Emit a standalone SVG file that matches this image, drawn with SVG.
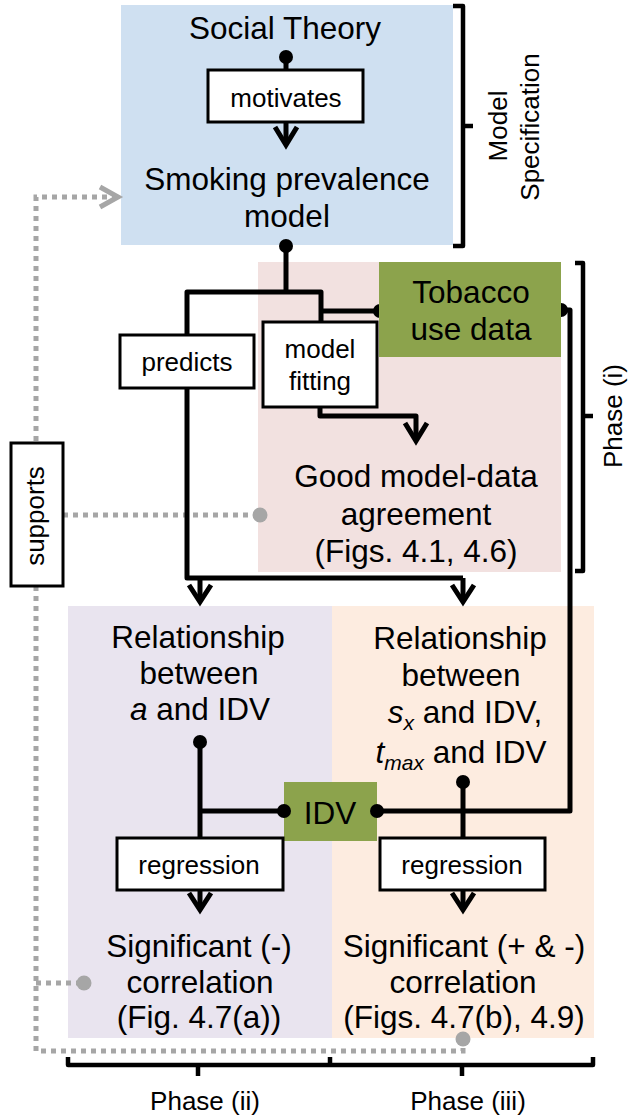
<svg xmlns="http://www.w3.org/2000/svg" width="629" height="1120" viewBox="0 0 629 1120">
<defs>
<style>
text{font-family:"Liberation Sans",Arial,sans-serif;fill:#000}
.big{font-size:31.5px;text-anchor:middle}
.sm{font-size:26px;text-anchor:middle}
.box{fill:#fff;stroke:#000;stroke-width:3}
.ln{fill:none;stroke:#000;stroke-width:5;stroke-linejoin:round;stroke-linecap:butt}
.ah{fill:none;stroke:#000;stroke-width:5;stroke-linejoin:miter;stroke-miterlimit:10}
.gl{fill:none;stroke:#a6a6a6;stroke-width:5;stroke-dasharray:5 5}
.ga{fill:none;stroke:#a6a6a6;stroke-width:5;stroke-linejoin:miter}
.br{fill:none;stroke:#000;stroke-width:4.5;stroke-linejoin:round}
.dot{fill:#000}
.gdot{fill:#a6a6a6}
</style>
</defs>
<rect width="629" height="1120" fill="#fff"/>

<!-- background regions -->
<g id="regions">
<rect x="121" y="5" width="332" height="240" fill="#cfe0f1"/>
<rect x="258" y="262" width="303" height="310" fill="#f2e1e0"/>
<rect x="68" y="606" width="264" height="432" fill="#e9e4ef"/>
<rect x="332" y="606" width="262" height="432" fill="#fdece0"/>
</g>

<!-- gray dotted "supports" connectors -->
<g id="support-connectors">
<polyline class="gl" points="117,197 36,197 36,1051 463,1051 463,1040"/>
<polyline class="ga" points="100,187 118,197 100,207"/>
<line class="gl" x1="63" y1="515" x2="258" y2="515"/>
<line class="gl" x1="36" y1="983" x2="82" y2="983"/>
<circle class="gdot" cx="260" cy="515" r="7.5"/>
<circle class="gdot" cx="84" cy="983" r="7.5"/>
<circle class="gdot" cx="463" cy="1039" r="7.5"/>
</g>

<!-- black connectors -->
<g id="connectors">
<line class="ln" x1="286" y1="57" x2="286" y2="70"/>
<line class="ln" x1="286" y1="122" x2="286" y2="144"/>
<polyline class="ah" points="275,127 286,145 297,127"/>

<polyline class="ln" points="286,246 286,292"/>
<polyline class="ln" points="187,335 187,292 321,292 321,322"/>
<line class="ln" x1="321" y1="311" x2="380" y2="311"/>

<polyline class="ln" points="187,388 187,578 463,578"/>
<line class="ln" x1="200" y1="578" x2="200" y2="600"/>
<line class="ln" x1="463" y1="578" x2="463" y2="600"/>
<polyline class="ah" points="189,585 200,602 211,585"/>
<polyline class="ah" points="452,585 463,602 474,585"/>

<polyline class="ln" points="320,407 320,416 416,416 416,440"/>
<polyline class="ah" points="405,423 416,441 427,423"/>

<polyline class="ln" points="561,310 570,310 570,811 377,811"/>

<line class="ln" x1="284" y1="811" x2="200" y2="811"/>
<line class="ln" x1="200" y1="742" x2="200" y2="838"/>
<line class="ln" x1="200" y1="890" x2="200" y2="908"/>
<polyline class="ah" points="189,893 200,910 211,893"/>

<line class="ln" x1="463" y1="782" x2="463" y2="838"/>
<line class="ln" x1="463" y1="890" x2="463" y2="908"/>
<polyline class="ah" points="452,893 463,910 474,893"/>

<circle class="dot" cx="286" cy="57" r="7"/>
<circle class="dot" cx="286" cy="246" r="7"/>
<circle class="dot" cx="380" cy="311" r="7"/>
<circle class="dot" cx="561" cy="310" r="7"/>
<circle class="dot" cx="200" cy="742" r="7"/>
<circle class="dot" cx="463" cy="782" r="7"/>
</g>

<!-- brackets -->
<g id="brackets">
<path class="br" d="M453,6 H463 V246 H453 M463,126 H473"/>
<path class="br" d="M575,263 H583 V571 H575 M583,416 H593"/>
<path class="br" d="M68,1057 V1065 H330 V1057 M330,1065 H593 V1057 M198,1065 V1076 M462,1065 V1076"/>
</g>

<g id="social-theory">
<text class="big" x="285" y="39">Social Theory</text>
</g>

<g id="motivates">
<rect class="box" x="208" y="70" width="155" height="52"/>
<text class="sm" x="286" y="107">motivates</text>
</g>

<g id="smoking-model">
<text class="big" x="287" y="190">Smoking prevalence</text>
<text class="big" x="287" y="227">model</text>
</g>

<g id="tobacco-data">
<rect x="379" y="262" width="182" height="95" fill="#8ca34c"/>
<text class="big" x="471" y="303">Tobacco</text>
<text class="big" x="471" y="340">use data</text>
</g>

<g id="predicts">
<rect class="box" x="120" y="335" width="134" height="53"/>
<text class="sm" x="187" y="371">predicts</text>
</g>

<g id="model-fitting">
<rect class="box" x="263" y="322" width="114" height="85" fill="#f2e1e0"/>
<text class="sm" x="320" y="358">model</text>
<text class="sm" x="320" y="390">fitting</text>
</g>

<g id="agreement">
<text class="big" x="416" y="487">Good model-data</text>
<text class="big" x="416" y="525">agreement</text>
<text class="big" x="416" y="562">(Figs. 4.1, 4.6)</text>
</g>

<g id="supports">
<rect class="box" x="11" y="443" width="52" height="143"/>
<text class="sm" transform="translate(44,516) rotate(-90)">supports</text>
</g>

<g id="rel-a">
<text class="big" x="198" y="648">Relationship</text>
<text class="big" x="199" y="684">between</text>
<text class="big" x="200" y="720"><tspan font-style="italic">a</tspan> and IDV</text>
</g>

<g id="rel-sx">
<text class="big" x="460" y="649">Relationship</text>
<text class="big" x="461" y="686">between</text>
<text class="big" x="465" y="723"><tspan font-style="italic">s</tspan><tspan font-style="italic" font-size="21" dy="7">x</tspan><tspan dy="-7"> and IDV,</tspan></text>
<text class="big" x="461" y="763"><tspan font-style="italic">t</tspan><tspan font-style="italic" font-size="21" dy="7">max</tspan><tspan dy="-7"> and IDV</tspan></text>
</g>

<g id="idv">
<rect x="284" y="782" width="93" height="59" fill="#8ca34c"/>
<text class="big" x="330" y="824">IDV</text>
<circle class="dot" cx="284" cy="811" r="7"/>
<circle class="dot" cx="377" cy="811" r="7"/>
</g>

<g id="regression-left">
<rect class="box" x="117" y="838" width="166" height="52"/>
<text class="sm" x="199" y="874">regression</text>
</g>

<g id="regression-right">
<rect class="box" x="380" y="838" width="165" height="52"/>
<text class="sm" x="462" y="874">regression</text>
</g>

<g id="sig-left">
<text class="big" x="199" y="957">Significant (-)</text>
<text class="big" x="200" y="993">correlation</text>
<text class="big" x="199" y="1028">(Fig. 4.7(a))</text>
</g>

<g id="sig-right">
<text class="big" x="464" y="957">Significant (+ &amp; -)</text>
<text class="big" x="463" y="993">correlation</text>
<text class="big" x="464" y="1028">(Figs. 4.7(b), 4.9)</text>
</g>

<g id="labels">
<text class="sm" transform="translate(507,126) rotate(-90)">Model</text>
<text class="sm" transform="translate(539,127) rotate(-90)">Specification</text>
<text class="sm" transform="translate(622,416) rotate(-90)">Phase (i)</text>
<text class="sm" x="205" y="1110">Phase (ii)</text>
<text class="sm" x="468" y="1110">Phase (iii)</text>
</g>
</svg>
